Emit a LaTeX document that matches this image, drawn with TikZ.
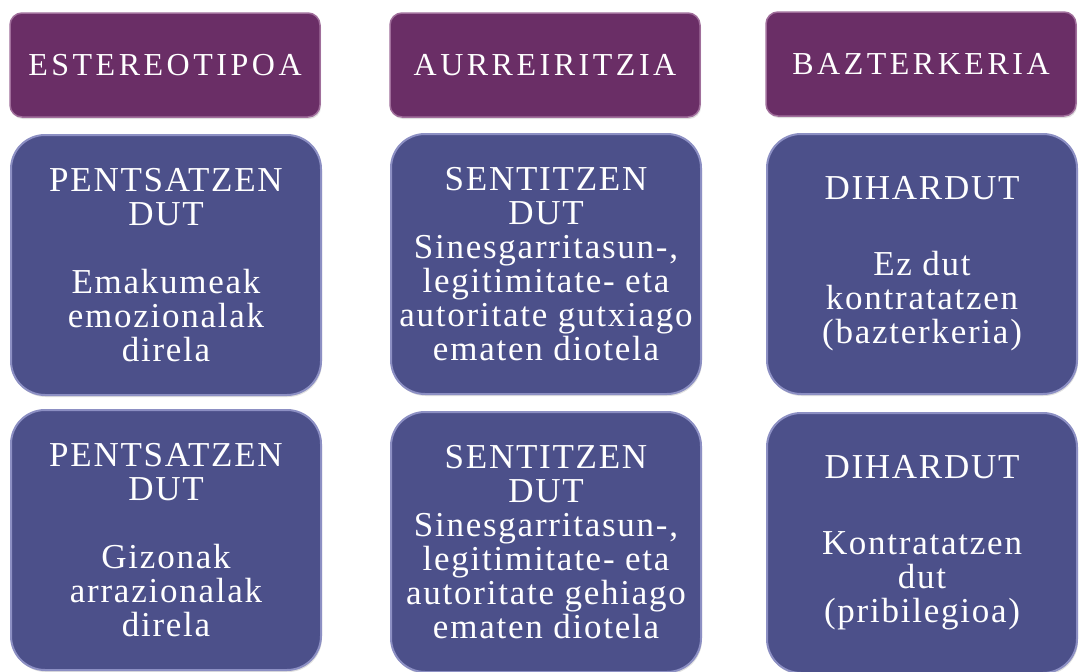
\documentclass[tikz,border=0pt]{standalone}
\usepackage{fontspec}
\setmainfont[LetterSpace=5]{Liberation Serif}
\usetikzlibrary{shadows}

\definecolor{headpurple}{RGB}{106,46,102}
\definecolor{headedge}{RGB}{160,110,155}
\definecolor{boxblue}{RGB}{76,80,138}
\definecolor{boxedge}{RGB}{140,143,195}

\tikzset{
  headbox/.style={fill=headpurple, draw=headedge, line width=1.5pt, rounded corners=12pt,
    minimum width=310pt, minimum height=104pt, inner sep=0pt, text=white,
    font=\fontsize{32}{34}\selectfont\addfontfeature{LetterSpace=11},
    drop shadow={opacity=0.25, shadow xshift=1pt, shadow yshift=-2pt}},
  textbox/.style={fill=boxblue, draw=boxedge, line width=2pt, rounded corners=34pt,
    minimum width=310pt, minimum height=260pt, inner sep=0pt, text=white, align=center,
    font=\fontsize{35}{34}\selectfont,
    drop shadow={opacity=0.25, shadow xshift=1pt, shadow yshift=-2pt}}
}

\begin{document}
\begin{tikzpicture}[x=1pt,y=1pt]
    \useasboundingbox (0,0) rectangle (1085,-672);
    % headers
    \node[headbox] (estereotipoa) at (165,-65) {ESTEREOTIPOA};
    \node[headbox] (aurreiritzia) at (545,-65) {AURREIRITZIA};
    \node[headbox] (bazterkeria) at (921,-64) {BAZTERKERIA};
    % first row
    \node[textbox] (pentsatzenA) at (166,-265) {PENTSATZEN\\DUT\\[34pt]Emakumeak\\emozionalak\\direla};
    \node[textbox] (sentitzenA) at (546,-264) {SENTITZEN\\DUT\\Sinesgarritasun-,\\legitimitate- eta\\autoritate gutxiago\\ematen diotela};
    \node[textbox] (dihardutA) at (922,-264) {DIHARDUT\\[42pt]Ez dut\\kontratatzen\\(bazterkeria)};
    % second row
    \node[textbox] (pentsatzenB) at (166,-540) {PENTSATZEN\\DUT\\[34pt]Gizonak\\arrazionalak\\direla};
    \node[textbox] (sentitzenB) at (546,-542) {SENTITZEN\\DUT\\Sinesgarritasun-,\\legitimitate- eta\\autoritate gehiago\\ematen diotela};
    \node[textbox] (dihardutB) at (922,-543) {DIHARDUT\\[42pt]Kontratatzen\\dut\\(pribilegioa)};
\end{tikzpicture}
\end{document}
